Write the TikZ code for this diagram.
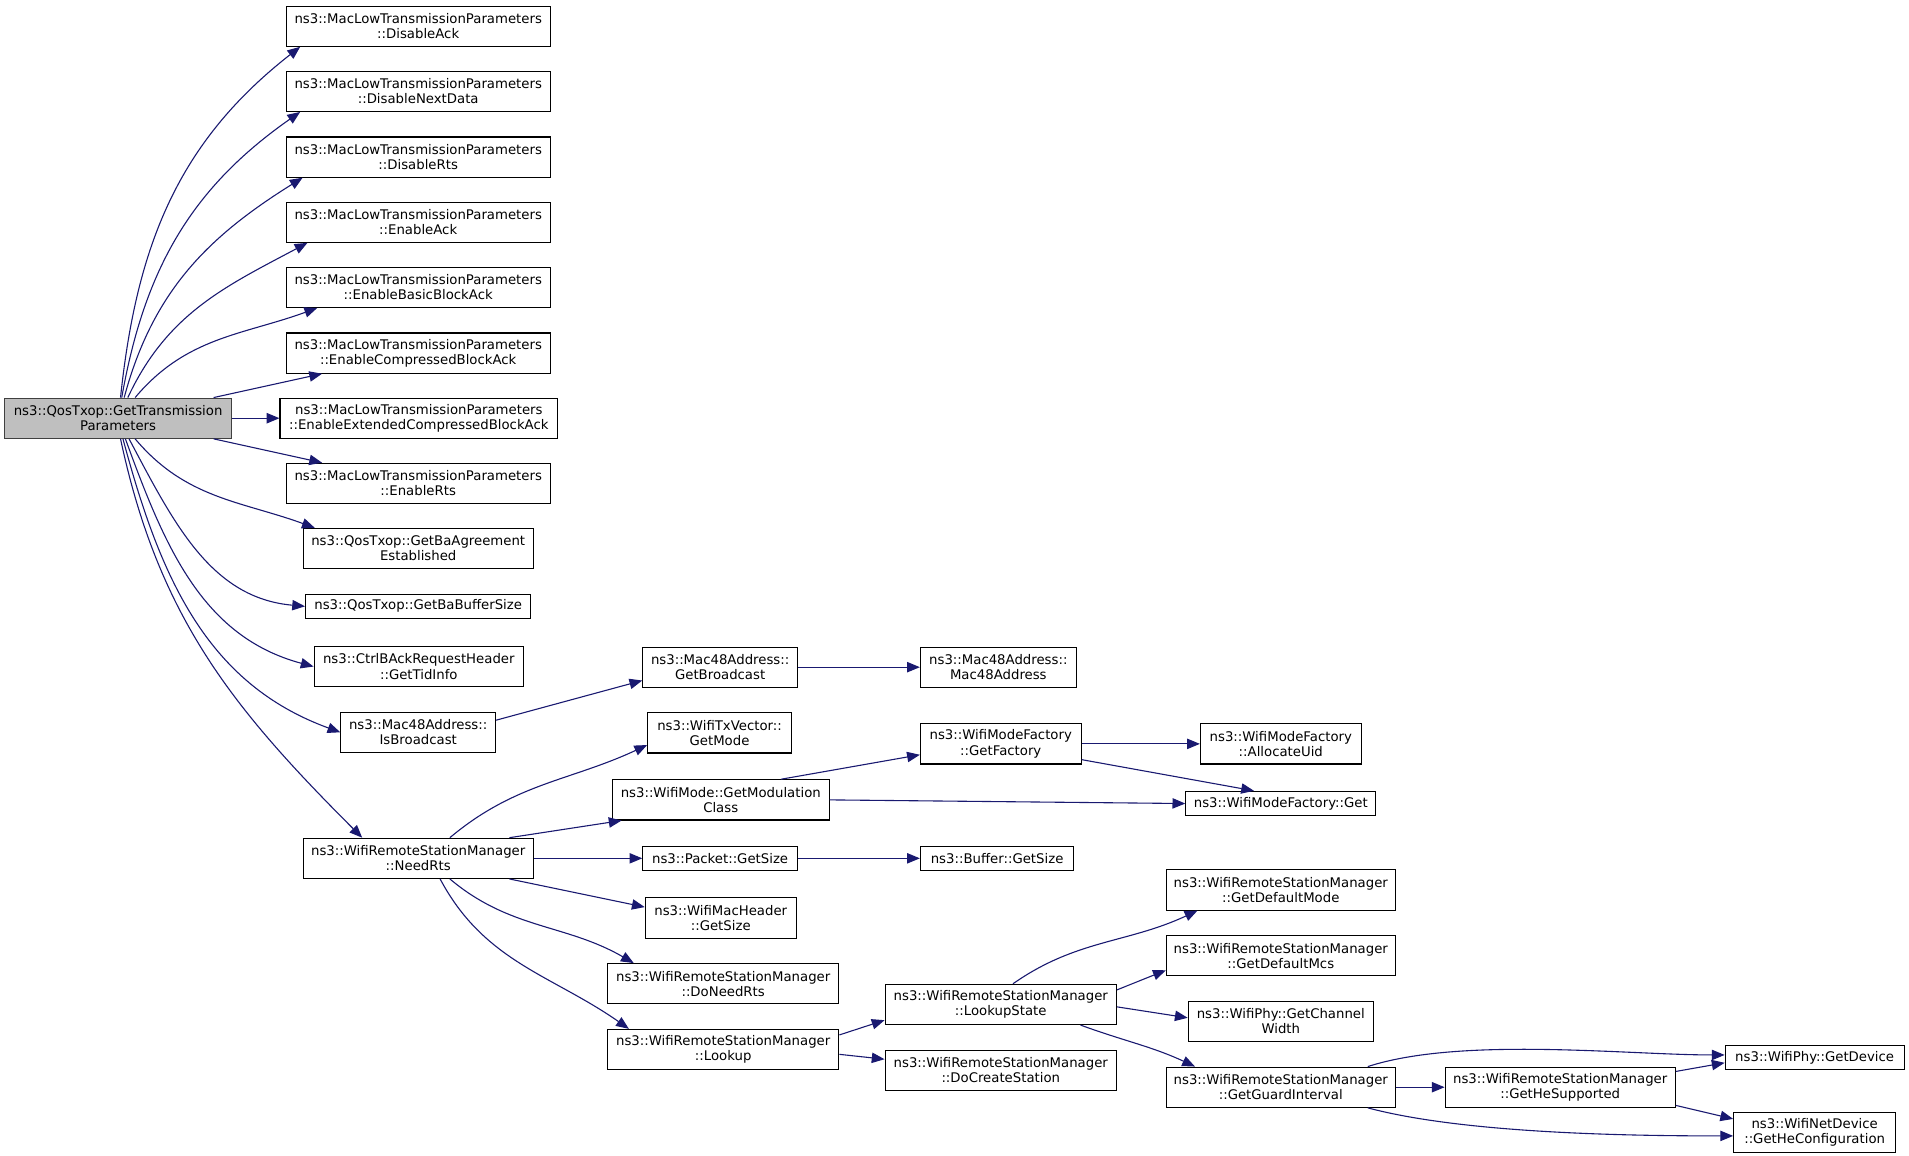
\documentclass[tikz,border=0pt]{standalone}
\usepackage{fontspec}
\setmainfont{DejaVu Sans}
\usepackage{tikz}
\usepackage{xcolor}
\usetikzlibrary{arrows.meta}
\definecolor{edgeblue}{HTML}{191970}
\tikzset{
    func-box/.style = {draw=black, fill=white, line width=0.9pt, rectangle, inner sep=0pt, align=center, minimum height=33pt, font=\fontsize{10.9}{12.4}\selectfont},
    func-line/.style = {func-box, minimum height=20pt},
    root-box/.style = {func-box, draw=black!75, fill=black!25},
    call/.style = {draw=edgeblue, line width=0.9pt, -{Triangle[length=10.5pt,width=8.5pt]}, fill=none},
}

\begin{document}
\begin{tikzpicture}[x=1pt,y=1pt]
\useasboundingbox (0,0) rectangle (1568,-949.5);
\node[root-box, minimum width=186pt] (root) at (97,-343.5) {ns3::QosTxop::GetTransmission\\Parameters};
\node[func-box, minimum width=217pt] (disAck) at (343.5,-21.5) {ns3::MacLowTransmissionParameters\\::DisableAck};
\node[func-box, minimum width=217pt] (disNext) at (343.5,-75) {ns3::MacLowTransmissionParameters\\::DisableNextData};
\node[func-box, minimum width=217pt] (disRts) at (343.5,-129) {ns3::MacLowTransmissionParameters\\::DisableRts};
\node[func-box, minimum width=217pt] (enAck) at (343.5,-182.5) {ns3::MacLowTransmissionParameters\\::EnableAck};
\node[func-box, minimum width=217pt] (enBasic) at (343.5,-236) {ns3::MacLowTransmissionParameters\\::EnableBasicBlockAck};
\node[func-box, minimum width=217pt] (enComp) at (343.5,-290) {ns3::MacLowTransmissionParameters\\::EnableCompressedBlockAck};
\node[func-box, minimum width=228pt] (enExt) at (344,-343.5) {ns3::MacLowTransmissionParameters\\::EnableExtendedCompressedBlockAck};
\node[func-box, minimum width=217pt] (enRts) at (343.5,-397) {ns3::MacLowTransmissionParameters\\::EnableRts};
\node[func-box, minimum width=189pt] (baAgree) at (343.5,-450.5) {ns3::QosTxop::GetBaAgreement\\Established};
\node[func-line, minimum width=185pt] (baBuf) at (343.5,-498) {ns3::QosTxop::GetBaBufferSize};
\node[func-box, minimum width=172pt] (tidInfo) at (344,-547.5) {ns3::CtrlBAckRequestHeader\\::GetTidInfo};
\node[func-box, minimum width=127pt] (isBcast) at (343.5,-601.5) {ns3::Mac48Address::\\IsBroadcast};
\node[func-box, minimum width=189pt] (needRts) at (343.5,-705) {ns3::WifiRemoteStationManager\\::NeedRts};
\node[func-box, minimum width=127pt] (getBcast) at (591.5,-548) {ns3::Mac48Address::\\GetBroadcast};
\node[func-box, minimum width=118pt] (getMode) at (591,-602) {ns3::WifiTxVector::\\GetMode};
\node[func-box, minimum width=178pt] (getModCls) at (592,-657) {ns3::WifiMode::GetModulation\\Class};
\node[func-line, minimum width=127pt] (pktSize) at (591.5,-705) {ns3::Packet::GetSize};
\node[func-box, minimum width=124pt] (macHdrSize) at (592,-754) {ns3::WifiMacHeader\\::GetSize};
\node[func-box, minimum width=190pt] (doNeedRts) at (594,-808) {ns3::WifiRemoteStationManager\\::DoNeedRts};
\node[func-box, minimum width=190pt] (lookup) at (594,-862) {ns3::WifiRemoteStationManager\\::Lookup};
\node[func-box, minimum width=128pt] (macAddr) at (820,-548) {ns3::Mac48Address::\\Mac48Address};
\node[func-box, minimum width=132pt] (getFactory) at (822,-611) {ns3::WifiModeFactory\\::GetFactory};
\node[func-line, minimum width=126pt] (bufSize) at (819,-705) {ns3::Buffer::GetSize};
\node[func-box, minimum width=190pt] (lookupState) at (822,-825) {ns3::WifiRemoteStationManager\\::LookupState};
\node[func-box, minimum width=190pt] (doCreate) at (822,-879) {ns3::WifiRemoteStationManager\\::DoCreateStation};
\node[func-box, minimum width=132pt] (allocUid) at (1052,-611) {ns3::WifiModeFactory\\::AllocateUid};
\node[func-line, minimum width=156pt] (modeGet) at (1052,-660) {ns3::WifiModeFactory::Get};
\node[func-box, minimum width=188pt] (defMode) at (1052,-731) {ns3::WifiRemoteStationManager\\::GetDefaultMode};
\node[func-box, minimum width=188pt] (defMcs) at (1052,-785) {ns3::WifiRemoteStationManager\\::GetDefaultMcs};
\node[func-box, minimum width=152pt] (chanWidth) at (1052,-839) {ns3::WifiPhy::GetChannel\\Width};
\node[func-box, minimum width=188pt] (guardInt) at (1052,-893) {ns3::WifiRemoteStationManager\\::GetGuardInterval};
\node[func-box, minimum width=189pt] (heSup) at (1281.5,-893) {ns3::WifiRemoteStationManager\\::GetHeSupported};
\node[func-line, minimum width=147pt] (getDevice) at (1490.5,-868.5) {ns3::WifiPhy::GetDevice};
\node[func-box, minimum width=133pt] (heConf) at (1490.5,-930) {ns3::WifiNetDevice\\::GetHeConfiguration};

\draw[call] ([xshift=2pt]root.north) to[out=84, in=218] ([xshift=12pt]disAck.south west);
\draw[call] ([xshift=3pt]root.north) to[out=80, in=215] ([xshift=12pt]disNext.south west);
\draw[call] ([xshift=5pt]root.north) to[out=75, in=212] ([xshift=14pt]disRts.south west);
\draw[call] ([xshift=8pt]root.north) to[out=65, in=208] ([xshift=18pt]enAck.south west);
\draw[call] ([xshift=14pt]root.north) to[out=50, in=200] ([xshift=26pt]enBasic.south west);
\draw[call] ([xshift=-15pt]root.north east) -- ([xshift=30pt]enComp.south west);
\draw[call] (root.east) -- (enExt.west);
\draw[call] ([xshift=-15pt]root.south east) -- ([xshift=30pt]enRts.north west);
\draw[call] ([xshift=14pt]root.south) to[out=-50, in=160] ([xshift=10pt]baAgree.north west);
\draw[call] ([xshift=9pt]root.south) to[out=-62, in=175] (baBuf.west);
\draw[call] ([xshift=6pt]root.south) to[out=-70, in=165] (tidInfo.west);
\draw[call] ([xshift=4pt]root.south) to[out=-75, in=160] (isBcast.west);
\draw[call] ([xshift=2pt]root.south) to[out=-78, in=135] ([xshift=-46pt]needRts.north);

\draw[call] ([yshift=-7pt]isBcast.north east) -- ([yshift=6pt]getBcast.south west);
\draw[call] (getBcast.east) -- (macAddr.west);
\draw[call] ([xshift=26pt]needRts.north) to[out=40, in=205] ([yshift=7pt]getMode.south west);
\draw[call] ([xshift=-20pt]needRts.north east) -- ([xshift=8pt]getModCls.south west);
\draw[call] (needRts.east) -- (pktSize.west);
\draw[call] ([xshift=-20pt]needRts.south east) -- ([yshift=-8pt]macHdrSize.north west);
\draw[call] ([xshift=26pt]needRts.south) to[out=-40, in=150] ([xshift=22pt]doNeedRts.north west);
\draw[call] ([xshift=18pt]needRts.south) to[out=-62, in=145] ([xshift=18pt]lookup.north west);

\draw[call] ([xshift=-40pt]getModCls.north east) -- ([yshift=8pt]getFactory.south west);
\draw[call] (getModCls.east) -- (modeGet.west);
\draw[call] (pktSize.east) -- (bufSize.west);
\draw[call] ([yshift=-5pt]lookup.north east) -- ([yshift=4pt]lookupState.south west);
\draw[call] ([yshift=-4pt]lookup.east) -- ([yshift=9pt]doCreate.west);

\draw[call] (getFactory.east) -- (allocUid.west);
\draw[call] ([yshift=4pt]getFactory.south east) -- ([xshift=-22pt]modeGet.north);
\draw[call] ([xshift=10pt]lookupState.north) to[out=35, in=205] ([xshift=26pt]defMode.south west);
\draw[call] ([yshift=-5pt]lookupState.north east) -- ([yshift=5pt]defMcs.south west);
\draw[call] ([yshift=-2pt]lookupState.east) -- ([yshift=3pt]chanWidth.west);
\draw[call] ([xshift=-30pt]lookupState.south east) to[out=-20, in=155] ([xshift=24pt]guardInt.north west);

\draw[call] ([xshift=-23pt]guardInt.north east) to[out=18, in=180, looseness=0.7] ([yshift=2pt]getDevice.west);
\draw[call] (guardInt.east) -- (heSup.west);
\draw[call] ([xshift=-23pt]guardInt.south east) to[out=-15, in=180, looseness=0.7] ([yshift=-3pt]heConf.west);
\draw[call] ([yshift=-4pt]heSup.north east) -- ([yshift=6pt]getDevice.south west);
\draw[call] ([yshift=2pt]heSup.south east) -- ([yshift=-6pt]heConf.north west);
\end{tikzpicture}
\end{document}
